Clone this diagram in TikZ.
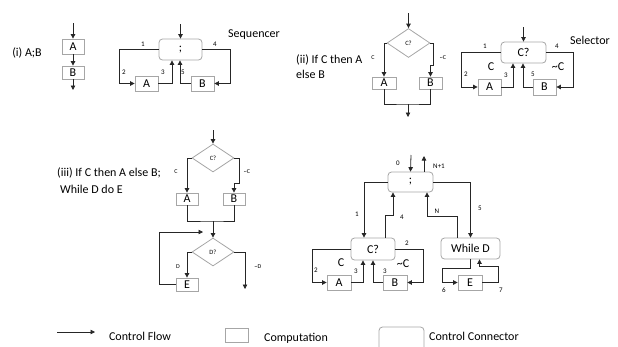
\documentclass[tikz,border=0pt]{standalone}
\usepackage{fontspec}
\setmainfont{Carlito}
\usetikzlibrary{arrows.meta,shapes.geometric}
\definecolor{boxgray}{HTML}{A6A6A6}
\newcommand{\fs}[1]{\fontsize{#1}{#1}\selectfont}
\tikzset{
  flow/.style={draw=black!85, line width=0.8pt, -{Triangle[length=4.5pt,width=4.5pt]}},
  line/.style={draw=black!85, line width=0.8pt},
  comp/.style={draw=boxgray, line width=0.8pt, rectangle, inner sep=0pt, font=\fs{12}},
  conn/.style={draw=boxgray, line width=0.8pt, rectangle, rounded corners=3.5pt, inner sep=0pt, font=\fs{12}},
  dia/.style={draw=boxgray, line width=0.8pt, diamond, inner sep=0pt, font=\fs{6.5}},
  num/.style={font=\fs{7}, inner sep=0pt},
  tiny/.style={font=\fs{6}, inner sep=0pt},
  txt/.style={font=\fs{12}, inner sep=0pt},
}
\begin{document}
\begin{tikzpicture}[x=1pt,y=-1pt]
\useasboundingbox (0,0) rectangle (618,346);

% ---------- (i) A;B ----------
\node[txt] (t1) at (27,53) {(i) A;B};
\node[comp, minimum width=22pt, minimum height=15pt] (A1) at (73,46.5) {A};
\node[comp, minimum width=22pt, minimum height=13pt] (B1) at (73,72.5) {B};
\coordinate (in1) at (73,23);
\coordinate (out1) at (73,90);
\draw[flow] (in1) -- (A1.north);
\draw[flow] (A1.south) -- (B1.north);
\draw[flow] (B1.south) -- (out1);

% ---------- Sequencer ----------
\node[conn, minimum width=43pt, minimum height=21pt] (S1) at (180.5,49.5) {;};
\node[comp, minimum width=23pt, minimum height=15pt] (SA) at (146.5,83.5) {A};
\node[comp, minimum width=23pt, minimum height=15pt] (SB) at (202.5,83.5) {B};
\coordinate (in2) at (180.5,24);
\draw[flow] (in2) -- (S1.north);
\draw[flow] (S1.west) -- (119,49.5) |- (SA.west);
\draw[flow] (SA.east) -| ([xshift=-8.5pt]S1.south);
\draw[flow] (SB.west) -| ([xshift=-0.5pt]S1.south);
\draw[flow] (S1.east) -- (230,49.5) |- (SB.east);
\node[num] (l11) at (143,44) {1};
\node[num] (l12) at (124,72) {2};
\node[num] (l13) at (163,72) {3};
\node[num] (l15) at (183,72) {5};
\node[num] (l14) at (215,44) {4};
\node[txt] (seq) at (254,35) {Sequencer};

% ---------- (ii) If C then A else B ----------
\node[txt, anchor=west, align=left] (t2) at (296,66.5) {(ii) If C then A\\[3pt]else B};
\node[dia, minimum width=43pt, minimum height=29pt] (D2) at (408.5,43) {C?};
\node[comp, minimum width=24pt, minimum height=12pt] (A2) at (384,83) {A};
\node[comp, minimum width=23pt, minimum height=12pt] (B2) at (430.5,83) {B};
\coordinate (in3) at (408.5,13);
\coordinate (m2) at (408,104);
\coordinate (out3) at (408,117);
\draw[flow] (in3) -- (D2.north);
\draw[flow] (D2.west) -| (A2.north);
\draw[flow] (D2.east) -| (433,65) -| (B2.north);
\draw[line] (A2.south) |- (m2) -| (B2.south);
\draw[flow] (m2) -- (out3);
\node[tiny] (c2) at (373,58) {C};
\node[tiny] (nc2) at (443,58) {\textasciitilde C};

% ---------- Selector ----------
\node[conn, minimum width=45pt, minimum height=21pt] (S2) at (523.5,52.5) {C?};
\node[comp, minimum width=23pt, minimum height=16pt] (SA2) at (489.5,87) {A};
\node[comp, minimum width=23pt, minimum height=16pt] (SB2) at (544.5,87) {B};
\coordinate (in4) at (523.5,27);
\draw[flow] (in4) -- (S2.north);
\draw[flow] (S2.west) -- (461,52.5) |- (SA2.west);
\draw[flow] (SA2.east) -| ([xshift=-10.5pt]S2.south);
\draw[flow] (SB2.west) -| ([xshift=-0.5pt]S2.south);
\draw[flow] (S2.east) -- (573,52.5) |- (SB2.east);
\node[num] (l21) at (485,46) {1};
\node[num] (l22) at (466,74) {2};
\node[num] (l23) at (506,75) {3};
\node[num] (l25) at (533,74) {5};
\node[num] (l24) at (557,46) {4};
\node[txt] (c22) at (491,67) {C};
\node[txt] (nc22) at (558,67) {\textasciitilde C};
\node[txt] (sel) at (590,40) {Selector};

% ---------- (iii) ----------
\node[txt, anchor=west] (t3a) at (57,173) {(iii) If C then A else B;};
\node[txt, anchor=west] (t3b) at (60,189) {While D do E};
\node[dia, minimum width=42pt, minimum height=28pt] (D3) at (213,158) {C?};
\node[comp, minimum width=22pt, minimum height=12pt] (A3) at (187,199) {A};
\node[comp, minimum width=22pt, minimum height=12pt] (B3) at (234,199) {B};
\coordinate (in5) at (213,130);
\coordinate (m3) at (213,221);
\draw[flow] (in5) -- (D3.north);
\draw[flow] (D3.west) -| (A3.north);
\draw[flow] (D3.east) -| (239,183) -| (B3.north);
\draw[line] (A3.south) |- (m3) -| (B3.south);
\node[dia, minimum width=42pt, minimum height=28pt] (DD) at (213,252) {D?};
\draw[flow] (m3) -- (DD.north);
\node[comp, minimum width=22pt, minimum height=13pt] (E3) at (187,284.5) {E};
\coordinate (lp) at (203,232);
\coordinate (out5) at (245,289);
\draw[flow] (DD.west) -| (E3.north);
\draw[flow] (E3.west) -- (159,284.5) |- (lp);
\draw[flow] (DD.east) -| (out5);
\node[tiny] (c3) at (176,172) {C};
\node[tiny] (nc3) at (247,172) {\textasciitilde C};
\node[tiny] (d3) at (178,267) {D};
\node[tiny] (nd3) at (258,267) {\textasciitilde D};

% ---------- (iv) composed ----------
\node[conn, minimum width=45pt, minimum height=20pt] (SC) at (410.5,182) {;};
\node[conn, minimum width=44pt, minimum height=22pt] (CC) at (373,249) {C?};
\node[conn, minimum width=59pt, minimum height=21pt] (WD) at (470.5,248.5) {While D};
\coordinate (in6) at (411,155);
\coordinate (out6) at (424,156);
\draw[flow] (in6) -- (SC.north);
\draw[flow] ([xshift=13.5pt]SC.north) -- (out6);
\node[num] (l0) at (398,163) {0};
\node[num] (lN1) at (439,166) {N+1};
\draw[flow] (SC.west) -| ([xshift=-9pt]CC.north);
\draw[flow] ([xshift=12pt]CC.north) -- (385,215) -| ([xshift=-17.5pt]SC.south);
\draw[flow] (SC.east) -| (WD.north);
\draw[flow] ([xshift=-13.5pt]WD.north) -- (457,216) -| ([xshift=16.5pt]SC.south);
\node[num] (l41) at (357,214) {1};
\node[num] (l44) at (402,217) {4};
\node[num] (l45) at (480,208) {5};
\node[num] (l4N) at (437,211) {N};
\node[comp, minimum width=24pt, minimum height=15pt] (A4) at (339,282.5) {A};
\node[comp, minimum width=24pt, minimum height=15pt] (B4) at (395,282.5) {B};
\draw[flow] (CC.west) -- (312,249) |- (A4.west);
\draw[flow] (A4.east) -| ([xshift=-10pt]CC.south);
\draw[flow] (B4.west) -| (CC.south);
\draw[flow] (CC.east) -- (423,249) |- (B4.east);
\node[num] (l42a) at (316,270) {2};
\node[num] (l43a) at (356,271) {3};
\node[num] (l43b) at (385,271) {3};
\node[num] (l42b) at (407,243) {2};
\node[txt] (c4) at (341,263) {C};
\node[txt] (nc4) at (403,264) {\textasciitilde C};
\node[comp, minimum width=24pt, minimum height=15pt] (E4) at (470,282.5) {E};
\coordinate (w6) at (442,268);
\coordinate (w7) at (498,266);
\draw[flow] (WD.south) |- (w6) |- (E4.west);
\draw[flow] (E4.east) -| (w7) -| ([xshift=9pt]WD.south);
\node[num] (l46) at (444,290) {6};
\node[num] (l47) at (501,290) {7};

% ---------- Legend ----------
\coordinate (lg1) at (57,332);
\coordinate (lg2) at (95,332);
\draw[flow] (lg1) -- (lg2);
\node[txt] (cf) at (140,336) {Control Flow};
\node[comp, minimum width=23pt, minimum height=14pt] (lgb) at (236.5,335) {};
\node[txt] (cp) at (296,338) {Computation};
\draw[draw=boxgray, line width=0.8pt, rounded corners=3.5pt] (379,352) -- (379,327) -- (424,327) -- (424,352);
\node[txt] (cc) at (474,336) {Control Connector};
\end{tikzpicture}
\end{document}
